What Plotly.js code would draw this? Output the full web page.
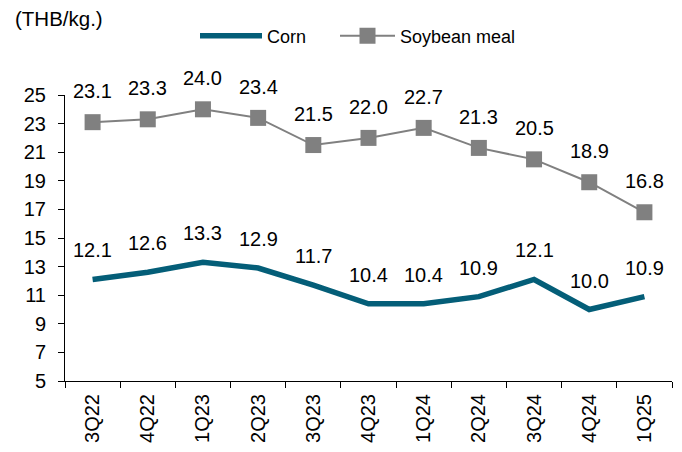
<!DOCTYPE html>
<html>
<head>
<meta charset="utf-8">
<script src="https://cdn.plot.ly/plotly-3.0.1.min.js"></script>
<style>html,body{margin:0;padding:0;background:#fff;}#chart{width:682px;height:452px;}</style>
</head>
<body>
<div id="chart"></div>
<script>
const quarters = ["3Q22","4Q22","1Q23","2Q23","3Q23","4Q23","1Q24","2Q24","3Q24","4Q24","1Q25"];
const corn = [12.1,12.6,13.3,12.9,11.7,10.4,10.4,10.9,12.1,10.0,10.9];
const soybeanMeal = [23.1,23.3,24.0,23.4,21.5,22.0,22.7,21.3,20.5,18.9,16.8];
const yTicks = [5,7,9,11,13,15,17,19,21,23,25];

const FONT = "Liberation Sans, Arial, sans-serif";
const cornColor = "#045e78";
const soyColor = "#808080";

const traces = [
  {x: quarters, y: corn, name: "Corn", type: "scatter", mode: "lines", legend: "legend",
   line: {color: cornColor, width: 5.5}},
  {x: quarters, y: soybeanMeal, name: "Soybean meal", type: "scatter", mode: "lines+markers", legend: "legend2",
   line: {color: soyColor, width: 2}, marker: {symbol: "square", size: 16, color: soyColor}}
];

const annotations = [];
soybeanMeal.forEach((v, i) => annotations.push({x: quarters[i], y: v, text: v.toFixed(1),
  showarrow: false, yshift: 31, font: {family: FONT, size: 20, color: "#000"}}));
corn.forEach((v, i) => annotations.push({x: quarters[i], y: v, text: v.toFixed(1),
  showarrow: false, yshift: 29, font: {family: FONT, size: 20, color: "#000"}}));

const legendFont = {family: FONT, size: 18, color: "#000"};
const layout = {
  width: 682, height: 452,
  margin: {l: 65, r: 10, t: 95, b: 71, autoexpand: false},
  paper_bgcolor: "#fff", plot_bgcolor: "#fff",
  font: {family: FONT, color: "#000"},
  title: {text: "(THB/kg.)", font: {family: FONT, size: 20.5, color: "#000"},
          x: 15/682, xref: "container", xanchor: "left", y: 1 - 19/452, yref: "container", yanchor: "middle"},
  showlegend: true,
  legend: {orientation: "h", xref: "container", x: 195/682, xanchor: "left", yref: "container", y: 1 - 36/452, yanchor: "middle",
           itemwidth: 62, font: legendFont, bgcolor: "rgba(0,0,0,0)"},
  legend2: {orientation: "h", xref: "container", x: 335/682, xanchor: "left", yref: "container", y: 1 - 36/452, yanchor: "middle",
           itemwidth: 55, font: legendFont, bgcolor: "rgba(0,0,0,0)"},
  xaxis: {type: "category", range: [-0.5, quarters.length - 0.5], tickson: "boundaries", ticks: "outside", ticklen: 6, tickcolor: "#000",
          showline: true, linecolor: "#000", linewidth: 1, showgrid: false, zeroline: false, automargin: false,
          tickangle: -90, tickfont: {family: FONT, size: 20, color: "#000"}, ticklabelstandoff: 4},
  yaxis: {range: [5, 25], tickvals: yTicks, ticks: "outside", ticklen: 6, tickcolor: "#000",
          showline: true, linecolor: "#000", linewidth: 1, showgrid: false, zeroline: false, automargin: false,
          tickfont: {family: FONT, size: 20, color: "#000"}, ticklabelstandoff: 8},
  annotations: annotations
};

Plotly.newPlot("chart", traces, layout, {displayModeBar: false, staticPlot: true});
</script>
</body>
</html>
